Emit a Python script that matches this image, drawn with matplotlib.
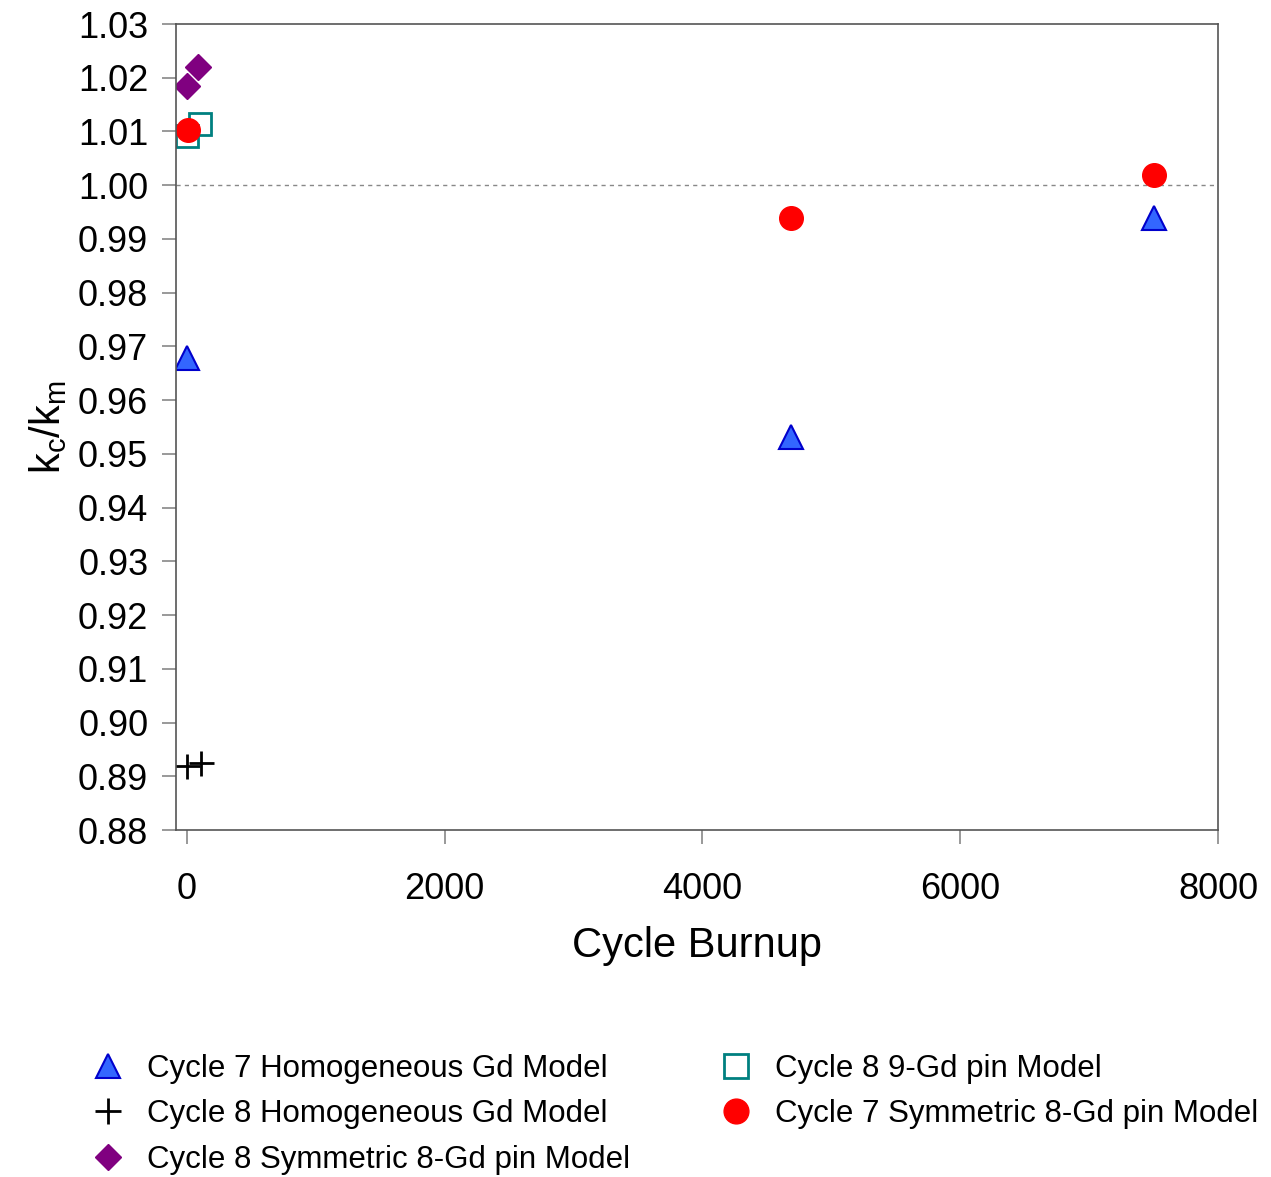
import matplotlib.pyplot as plt

plt.rcParams['font.family'] = ['Liberation Sans', 'DejaVu Sans']

# Cycle 7 homogeneous Gd model
c7_homo_x = [0, 4690, 7500]
c7_homo_y = [0.9678, 0.9531, 0.9939]
# Cycle 8 homogeneous Gd model
c8_homo_x = [0, 110]
c8_homo_y = [0.8919, 0.8925]
# Cycle 8 symmetric 8-Gd pin model
c8_sym_x = [0, 85]
c8_sym_y = [1.0185, 1.0220]
# Cycle 8 9-Gd pin model
c8_9gd_x = [0, 100]
c8_9gd_y = [1.0092, 1.0114]
# Cycle 7 symmetric 8-Gd pin model
c7_sym_x = [10, 4690, 7500]
c7_sym_y = [1.0103, 0.9939, 1.0019]

yticks = [0.88 + 0.01 * i for i in range(16)]
xticks = [0, 2000, 4000, 6000, 8000]


def plot_chart():
    fig = plt.figure(figsize=(12.71, 11.77), dpi=100)
    ax = fig.add_axes([0.1385, 0.2948, 0.8198, 0.6848])

    ax.axhline(1.0, color='#888888', ls=(0, (3, 3)), lw=1, zorder=1)

    ax.plot(c7_homo_x, c7_homo_y, ls='none', marker='^', ms=17,
            mfc='#3366FF', mec='#0000CC', mew=1.5, label='Cycle 7 Homogeneous Gd Model')
    ax.plot(c8_homo_x, c8_homo_y, ls='none', marker='+', ms=18,
            color='black', mew=2, label='Cycle 8 Homogeneous Gd Model')
    ax.plot(c8_sym_x, c8_sym_y, ls='none', marker='D', ms=13,
            mfc='#800080', mec='#800080', label='Cycle 8 Symmetric 8-Gd pin Model')
    ax.plot(c8_9gd_x, c8_9gd_y, ls='none', marker='s', ms=16,
            mfc='none', mec='#008080', mew=2, label='Cycle 8 9-Gd pin Model')
    ax.plot(c7_sym_x, c7_sym_y, ls='none', marker='o', ms=17,
            mfc='red', mec='red', label='Cycle 7 Symmetric 8-Gd pin Model')

    ax.set_xlim(-85, 8000)
    ax.set_ylim(0.88, 1.03)
    ax.set_xticks(xticks)
    ax.set_yticks(yticks)
    ax.set_yticklabels(['%.2f' % v for v in yticks])
    ax.tick_params(axis='both', labelsize=26, direction='out', length=10,
                   color='#888888', width=1.2, pad=10)
    ax.tick_params(axis='x', pad=20)

    for s in ax.spines.values():
        s.set_color('#555555')
        s.set_linewidth(1.2)

    ax.set_xlabel('Cycle Burnup', fontsize=30, labelpad=14)
    ax.set_ylabel('k$_\\mathregular{c}$/k$_\\mathregular{m}$', fontsize=30, labelpad=6)

    fig.legend(loc='lower left', bbox_to_anchor=(0.048, -0.022), ncol=2,
               frameon=False, fontsize=22.5, handlelength=1.2, handletextpad=0.65,
               columnspacing=2.8, labelspacing=0.5, numpoints=1,
               markerscale=1.05)

    plt.savefig('out.png')


if __name__ == '__main__':
    plot_chart()
